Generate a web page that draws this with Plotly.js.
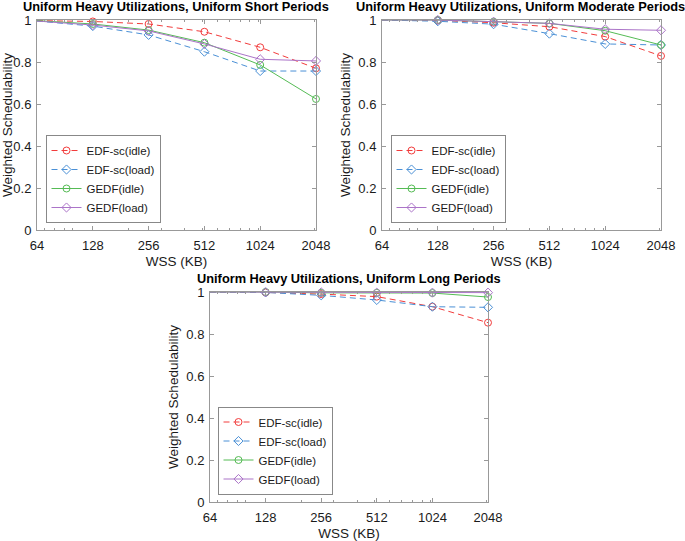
<!DOCTYPE html>
<html>
<head>
<meta charset="utf-8">
<script src="https://cdn.plot.ly/plotly-3.0.1.min.js"></script>
<style>html,body{margin:0;padding:0;background:#fff;}#chart{width:685px;height:541px;}</style>
</head>
<body>
<div id="chart"></div>
<script>
// ---- data ----
const wss = [64, 128, 256, 512, 1024, 2048];
const tickLabels = ['64', '128', '256', '512', '1024', '2048'];
const seriesNames = ['EDF-sc(idle)', 'EDF-sc(load)', 'GEDF(idle)', 'GEDF(load)'];
const panelTitles = [
  'Uniform Heavy Utilizations, Uniform Short Periods',
  'Uniform Heavy Utilizations, Uniform Moderate Periods',
  'Uniform Heavy Utilizations, Uniform Long Periods'
];
// Short periods
const shortEdfIdle  = [0.997, 0.993, 0.981, 0.944, 0.870, 0.770];
const shortEdfLoad  = [0.995, 0.971, 0.929, 0.849, 0.757, 0.757];
const shortGedfIdle = [0.997, 0.981, 0.952, 0.892, 0.786, 0.624];
const shortGedfLoad = [0.995, 0.976, 0.948, 0.886, 0.813, 0.805];
// Moderate periods
const modEdfIdle  = [1.000, 0.998, 0.987, 0.968, 0.921, 0.829];
const modEdfLoad  = [1.000, 0.994, 0.980, 0.935, 0.886, 0.881];
const modGedfIdle = [1.000, 1.000, 0.992, 0.984, 0.949, 0.881];
const modGedfLoad = [1.000, 1.000, 0.992, 0.984, 0.956, 0.951];
// Long periods
const longEdfIdle  = [1.000, 0.998, 0.990, 0.978, 0.930, 0.854];
const longEdfLoad  = [1.000, 0.998, 0.984, 0.962, 0.930, 0.927];
const longGedfIdle = [1.000, 1.000, 0.996, 0.996, 0.995, 0.976];
const longGedfLoad = [1.000, 0.999, 0.998, 0.997, 0.997, 0.997];
// minor log ticks (decade based)
const minorTicks = [70, 80, 90, 100, 200, 300, 400, 500, 600, 700, 800, 900, 1000, 2000];
const yTicks = [0, 0.2, 0.4, 0.6, 0.8, 1];

// ---- styles ----
const colors = ['#f23c3c', '#4a90d6', '#55bb55', '#ab74c8'];
const dashes = ['6px,4px', '6px,4px', 'solid', 'solid'];
const symbols = ['circle-open', 'diamond-open', 'circle-open', 'diamond-open'];

const panels = [
  [shortEdfIdle, shortEdfLoad, shortGedfIdle, shortGedfLoad],
  [modEdfIdle, modEdfLoad, modGedfIdle, modGedfLoad],
  [longEdfIdle, longEdfLoad, longGedfIdle, longGedfLoad]
];
const axisIds = [['x', 'y', 'legend'], ['x2', 'y2', 'legend2'], ['x3', 'y3', 'legend3']];

const traces = [];
panels.forEach((series, p) => {
  series.forEach((vals, i) => {
    traces.push({
      x: wss, y: vals, type: 'scatter', mode: 'lines+markers',
      name: seriesNames[i],
      xaxis: axisIds[p][0], yaxis: axisIds[p][1], legend: axisIds[p][2],
      line: {color: colors[i], width: 1, dash: dashes[i]},
      marker: {symbol: symbols[i], size: 7, color: colors[i], line: {color: colors[i], width: 1}},
      cliponaxis: false
    });
  });
});

const W = 685, H = 541;
const fx = px => px / W;
const fy = py => (H - py) / H;
const fam = 'Liberation Sans, Arial, Helvetica, sans-serif';
const tickFont = {family: fam, size: 13, color: '#1a1a1a'};
const axTitleFont = {family: fam, size: 13.5, color: '#1a1a1a'};

function xAxis(l, r, anchor) {
  return {
    domain: [fx(l), fx(r)], anchor: anchor, type: 'log',
    range: [Math.log10(64), Math.log10(2048)],
    tickmode: 'array', tickvals: wss, ticktext: tickLabels,
    ticks: 'inside', ticklen: 4, tickcolor: '#999', showline: true, linecolor: '#999', linewidth: 1,
    mirror: 'ticks', showgrid: false, zeroline: false,
    minor: {tickmode: 'array', tickvals: minorTicks, ticks: 'inside', ticklen: 2, tickcolor: '#999', showgrid: false},
    tickfont: tickFont, ticklabelstandoff: 3,
    title: {text: 'WSS (KB)', font: axTitleFont, standoff: 4}
  };
}
function yAxis(t, b, anchor) {
  return {
    domain: [fy(b), fy(t)], anchor: anchor, range: [0, 1],
    tickmode: 'array', tickvals: yTicks,
    ticks: 'inside', ticklen: 4, tickcolor: '#999', showline: true, linecolor: '#999', linewidth: 1,
    mirror: 'ticks', showgrid: false, zeroline: false,
    tickfont: tickFont, ticklabelstandoff: 2,
    title: {text: 'Weighted Schedulability', font: axTitleFont, standoff: 4}
  };
}
const legendBase = {
  font: {family: fam, size: 11.5, color: '#1a1a1a'},
  bgcolor: '#ffffff', bordercolor: '#888', borderwidth: 1,
  xanchor: 'left', yanchor: 'bottom', tracegroupgap: 0, itemwidth: 30
};
const titleFont = {family: fam, size: 12.8, color: '#000'};

const layout = {
  width: W, height: H,
  margin: {l: 0, r: 0, t: 0, b: 0},
  paper_bgcolor: '#fff', plot_bgcolor: '#fff',
  showlegend: true,
  xaxis: xAxis(37, 316, 'y'),
  yaxis: yAxis(20, 230, 'x'),
  xaxis2: xAxis(382, 661, 'y2'),
  yaxis2: yAxis(20, 230, 'x2'),
  xaxis3: xAxis(210, 488, 'y3'),
  yaxis3: yAxis(292, 502, 'x3'),
  legend: Object.assign({x: fx(45.5), y: fy(223)}, legendBase),
  legend2: Object.assign({x: fx(390.5), y: fy(223)}, legendBase),
  legend3: Object.assign({x: fx(217.5), y: fy(494.5)}, legendBase),
  annotations: [
    {text: '<b>' + panelTitles[0] + '</b>', x: fx(176), y: fy(16), xref: 'paper', yref: 'paper', xanchor: 'center', yanchor: 'bottom', showarrow: false, font: titleFont},
    {text: '<b>' + panelTitles[1] + '</b>', x: fx(520.5), y: fy(16), xref: 'paper', yref: 'paper', xanchor: 'center', yanchor: 'bottom', showarrow: false, font: titleFont},
    {text: '<b>' + panelTitles[2] + '</b>', x: fx(348.5), y: fy(287.5), xref: 'paper', yref: 'paper', xanchor: 'center', yanchor: 'bottom', showarrow: false, font: titleFont}
  ]
};

Plotly.newPlot('chart', traces, layout, {displayModeBar: false, staticPlot: true});
</script>
</body>
</html>
